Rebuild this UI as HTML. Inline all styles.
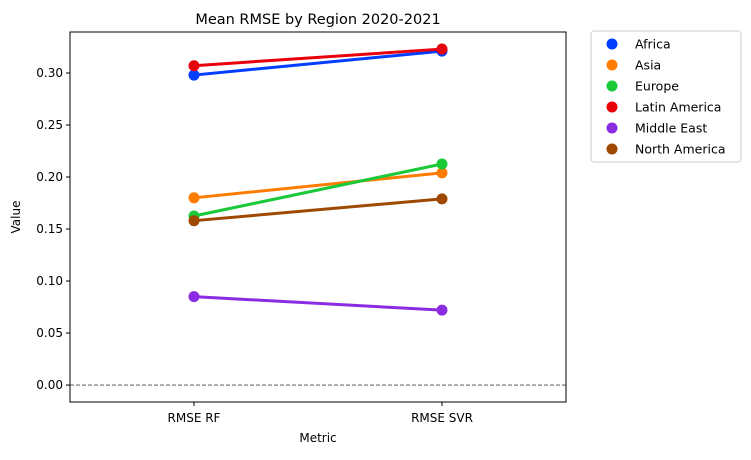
<!DOCTYPE html>
<html><head><meta charset="utf-8"><style>
body{margin:0;background:#fff;font-family:"Liberation Sans","DejaVu Sans",sans-serif;}
svg text{font-family:"DejaVu Sans","Liberation Sans",sans-serif;}
</style></head><body>
<svg id="chart" width="751" height="455" xmlns="http://www.w3.org/2000/svg">
<text x="318" y="24" font-size="14.5" text-anchor="middle">Mean RMSE by Region 2020-2021</text>
<g id="yaxis"></g>
<g id="xaxis"></g>
<line id="zero" stroke="#444" stroke-width="0.8" stroke-dasharray="4,2"></line>
<g id="series"></g>
<rect x="70" y="32" width="496" height="370" fill="none" stroke="#000" stroke-width="1"/>
<text x="318" y="442" font-size="12" text-anchor="middle">Metric</text>
<text transform="translate(20,217) rotate(-90)" font-size="12" text-anchor="middle">Value</text>
<rect x="591" y="31" width="150" height="131" rx="3" fill="#fff" stroke="#ccc"/>
<g id="legend"></g>
</svg>
<script>
const categories=["RMSE RF","RMSE SVR"];
const regions=["Africa","Asia","Europe","Latin America","Middle East","North America"];
const colors=["#023eff","#ff7c00","#1ac938","#e8000b","#8b2be2","#9f4800"];
const africa=[0.298,0.321];
const asia=[0.180,0.204];
const europe=[0.1625,0.2125];
const latinAmerica=[0.307,0.323];
const middleEast=[0.085,0.072];
const northAmerica=[0.158,0.179];
const yTicks=[0,0.05,0.10,0.15,0.20,0.25,0.30];
const seriesVals=[africa,asia,europe,latinAmerica,middleEast,northAmerica];
const NS="http://www.w3.org/2000/svg";
const yMin=-0.0163,yMax=0.3394,plotTop=32,plotBot=402,plotLeft=70,plotRight=566;
const y=v=>plotBot-(v-yMin)/(yMax-yMin)*(plotBot-plotTop);
const x=i=>plotLeft+(i+0.5)/categories.length*(plotRight-plotLeft);
function mk(t,a,p){const e=document.createElementNS(NS,t);for(const k in a)e.setAttribute(k,a[k]);p.appendChild(e);return e;}
const ya=document.getElementById('yaxis');
yTicks.forEach(v=>{
 const l=mk('line',{x1:plotLeft-4,x2:plotLeft,y1:y(v),y2:y(v),stroke:'#000'},ya);
 
 
 const t=mk('text',{x:plotLeft-7,y:y(v)+4,'font-size':12,'text-anchor':'end'},ya);
 t.textContent=v.toFixed(2);
 
 
});
const xa=document.getElementById('xaxis');
categories.forEach((c,i)=>{
 const l=mk('line',{x1:x(i),x2:x(i),y1:plotBot,y2:plotBot+4,stroke:'#000'},xa);
 
 
 const t=mk('text',{x:x(i),y:plotBot+20,'font-size':12,'text-anchor':'middle'},xa);
 t.textContent=c;
 
 
});
const z=document.getElementById('zero');
z.setAttribute('x1',plotLeft);z.setAttribute('x2',plotRight);z.setAttribute('y1',y(0));z.setAttribute('y2',y(0));
const sg=document.getElementById('series');
seriesVals.forEach((vals,s)=>{
 const pl=mk('polyline',{points:vals.map((v,i)=>x(i)+','+y(v)).join(' '),fill:'none',stroke:colors[s],'stroke-width':3},sg);
 
 
 vals.forEach((v,i)=>{
  const c=mk('circle',{cx:x(i),cy:y(v),r:5.5,fill:colors[s]},sg);
  
  
 });
});
const lg=document.getElementById('legend');
regions.forEach((r,i)=>{
 const yy=44+i*21;
 const c=mk('circle',{cx:612,cy:yy,r:5.5,fill:colors[i]},lg);
 
 
 const t=mk('text',{x:635,y:yy+4.5,'font-size':12.5},lg);
 t.textContent=r;
 
 
});
</script>
</body></html>
